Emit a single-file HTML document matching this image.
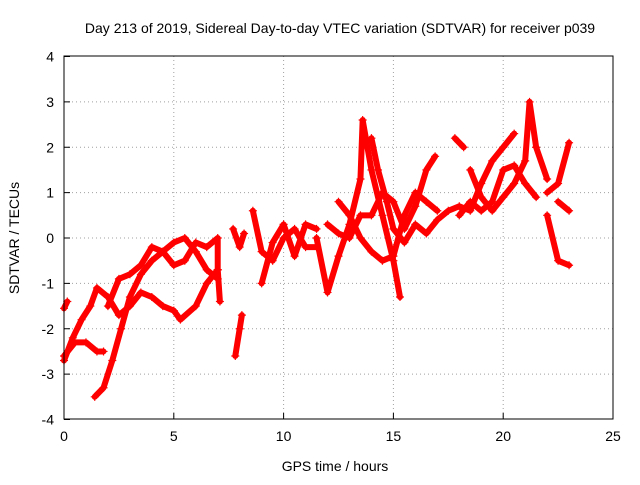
<!DOCTYPE html>
<html><head><meta charset="utf-8"><style>
body{margin:0;background:#fff;}
svg text{font-family:"Liberation Sans",sans-serif;font-size:14px;fill:#000;}
</style></head><body>
<svg width="640" height="480" xmlns="http://www.w3.org/2000/svg">
<g id="grid"></g>
<g id="marks"></g>
<rect x="64" y="56" width="549" height="363" fill="none" stroke="#000"/>
<g id="ticks"></g>
<text x="340" y="33" text-anchor="middle">Day 213 of 2019, Sidereal Day-to-day VTEC variation (SDTVAR) for receiver p039</text>
<text x="335" y="471" text-anchor="middle">GPS time / hours</text>
<text transform="translate(19,238) rotate(-90)" text-anchor="middle">SDTVAR / TECUs</text>
</svg>
<script>
const xTicks=[0,5,10,15,20,25];
const yTicks=[-4,-3,-2,-1,0,1,2,3,4];
const trackA=[[0,-2.6],[0.5,-2.3],[1,-2.3],[1.5,-2.5],[1.8,-2.5]];
const trackB=[[1.4,-3.5],[1.8,-3.3],[2.2,-2.7],[2.6,-2.0],[3,-1.3],[3.5,-0.8],[4,-0.5],[4.5,-0.3],[5,-0.1],[5.5,0],[6,-0.3],[6.5,-0.7],[7,-0.9]];
const trackC=[[0,-2.7],[0.4,-2.2],[0.8,-1.8],[1.2,-1.5],[1.5,-1.1],[2,-1.3],[2.5,-1.7],[3,-1.5],[3.5,-1.2],[4,-1.3],[4.5,-1.5],[5,-1.6],[5.3,-1.8],[6,-1.5],[6.5,-1.0],[7,-0.7]];
const trackD=[[0,-1.55],[0.15,-1.4]];
const trackE=[[2,-1.5],[2.5,-0.9],[3,-0.8],[3.5,-0.6],[4,-0.2],[4.5,-0.3],[5,-0.6],[5.5,-0.5],[6,-0.1],[6.5,-0.2],[7,0],[7,-0.7],[7.1,-1.4]];
const trackF=[[7.8,-2.6],[8,-2.0],[8.1,-1.7]];
const trackF2=[[7.7,0.2],[8,-0.2],[8.2,0.1]];
const trackG=[[8.6,0.6],[9,-0.3],[9.5,-0.5],[10,0],[10.5,0.2],[11,-0.2],[11.5,-0.2]];
const trackG2=[[9,-1.0],[9.5,-0.1],[10,0.3],[10.5,-0.4],[11,0.3],[11.5,0.2]];
const trackH=[[11.5,0],[12,-1.2],[12.5,-0.4],[13,0.3],[13.5,1.3],[13.6,2.6],[14,1.5],[14.5,0.5],[15,-0.5],[15.3,-1.3]];
const trackI=[[12,0.3],[12.5,0.1],[13,0],[13.5,0.5],[14,0.5],[14.5,1.0],[15,0.8],[15.5,0.2],[16,0.7],[16.5,1.5],[16.9,1.8]];
const trackJ=[[12.5,0.8],[13,0.5],[13.5,0],[14,-0.3],[14.5,-0.5],[15,-0.4],[15.5,0.5],[16,1.0],[16.5,0.8],[17,0.6]];
const trackK=[[14,2.2],[14.3,1.5],[14.7,0.8],[15,0.2],[15.5,-0.1],[16,0.3],[16.5,0.1],[17,0.4],[17.5,0.6],[18,0.7],[18.5,0.6],[19,1.2],[19.5,1.7],[20,2.0],[20.5,2.3]];
const trackL=[[17.8,2.2],[18.2,2.0]];
const trackL2=[[18,0.5],[18.5,0.8],[19,0.6],[19.5,0.8],[20,1.5],[20.5,1.6],[21,1.2],[21.5,0.9]];
const trackM=[[18.5,1.5],[19,0.9],[19.5,0.6],[20,0.9],[20.5,1.2],[21,1.7],[21.2,3.0],[21.5,2.0],[22,1.3]];
const trackN=[[22,0.5],[22.5,-0.5],[23,-0.6]];
const trackN2=[[22,1.0],[22.5,1.2],[23,2.1]];
const trackN3=[[22.5,0.8],[23,0.6]];
const tracks=[trackA,trackB,trackC,trackD,trackE,trackF,trackF2,trackG,trackG2,trackH,trackI,trackJ,trackK,trackL,trackL2,trackM,trackN,trackN2,trackN3];
const NS="http://www.w3.org/2000/svg";
const X=v=>64+v*549/25, Y=v=>238-v*363/8;
const grid=document.getElementById('grid'),ticks=document.getElementById('ticks'),marks=document.getElementById('marks');
function mk(tag,at,p){const e=document.createElementNS(NS,tag);for(const k in at)e.setAttribute(k,at[k]);p.appendChild(e);return e;}
xTicks.forEach(t=>{
 if(t>0&&t<25){const g=mk('line',{x1:X(t),x2:X(t),y1:56,y2:419,stroke:'#a0a0a0','stroke-dasharray':'1,3'},grid);
 
 }
 const tl=mk('line',{x1:X(t),x2:X(t),y1:419,y2:413,stroke:'#000'},ticks);
 
 
 const tx=mk('text',{x:X(t),y:441,'text-anchor':'middle'},ticks);tx.textContent=t;
 
 
});
yTicks.forEach(t=>{
 if(t>-4&&t<4){const g=mk('line',{x1:64,x2:613,y1:Y(t),y2:Y(t),stroke:'#a0a0a0','stroke-dasharray':'1,3'},grid);
 
 }
 const tl=mk('line',{x1:64,x2:70,y1:Y(t),y2:Y(t),stroke:'#000'},ticks);
 
 
 const tx=mk('text',{x:54,y:Y(t)+5,'text-anchor':'end'},ticks);tx.textContent=t;
 
 
});
tracks.forEach(tr=>{
 const pl=mk('polyline',{points:tr.map(p=>X(p[0])+','+Y(p[1])).join(' '),fill:'none',stroke:'#ff0000','stroke-width':6,'stroke-linejoin':'round','stroke-linecap':'round'},marks);
 
 
 tr.forEach(p=>{
  const x=X(p[0]),y=Y(p[1]);
  const m=mk('path',{d:`M${x-4},${y}H${x+4}M${x},${y-4}V${y+4}`,stroke:'#ff0000','stroke-width':1.2},marks);
  
  
 });
});
</script>
</body></html>
